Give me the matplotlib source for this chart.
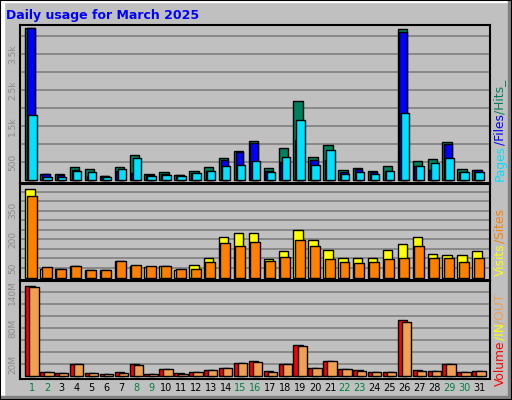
import matplotlib
matplotlib.use("Agg")
import matplotlib.pyplot as plt
from matplotlib.patches import Rectangle
import numpy as np

days = list(range(1, 32))
weekend = [1, 2, 8, 9, 15, 16, 22, 23, 29, 30]
hits = [4230,167,167,370,305,120,370,704,167,222,148,260,370,620,815,1093,333,898,2204,648,982,287,343,260,398,4204,537,593,1065,315,287]
files = [4213,167,139,287,120,110,260,195,150,180,130,190,260,565,778,1028,240,500,1120,565,565,230,305,230,260,4120,398,287,1000,231,268]
pages = [1805,93,93,250,222,93,315,620,120,148,120,195,250,398,417,528,222,648,1676,417,843,176,222,176,250,1861,398,481,620,231,231]
visits = [463,44,44,63,39,42,89,58,54,63,37,68,105,214,232,232,95,137,247,195,142,105,100,105,147,174,214,126,116,116,137]
sites = [428,53,47,63,42,37,89,68,58,58,47,47,84,179,168,189,89,110,195,168,95,79,74,84,95,105,168,105,100,84,105]
vol_in = [150.6,7.2,5.6,20.6,5.6,3.9,7.2,20.6,3.9,12.2,5.6,7.2,10.6,13.9,22.2,25.6,8.9,20.6,52.2,13.9,25.6,12.2,10.6,7.2,7.2,93.9,10.6,8.9,20.6,7.2,8.9]
vol_out = [148.4,7.2,5.6,20.6,5.6,3.9,5.6,18.9,3.9,12.2,3.9,7.2,10.6,13.9,22.2,23.9,7.2,20.6,50.6,13.9,25.6,12.2,8.9,7.2,7.2,90.6,8.9,8.9,20.6,7.2,8.9]
top_ticks = [500, 1500, 2500, 3500]; top_labels = ["500", "1.5k", "2.5k", "3.5k"]
mid_ticks = [50, 200, 350]; mid_labels = ["50", "200", "350"]
bot_ticks = [20, 80, 140]; bot_labels = ["20M", "80M", "140M"]

W, H = 512, 400
fig = plt.figure(figsize=(W/100, H/100), dpi=100, facecolor="#C0C0C0")
x = np.array(days)
BG = "#C0C0C0"

def mkax(top, bot, ylo, yhi, grid_step, grid_max):
    ax = fig.add_axes([20/W, 1-bot/H, 470/W, (bot-top)/H])
    ax.set_facecolor(BG)
    ax.set_xlim(0.195, 31.74)
    ax.set_ylim(ylo, yhi)
    for g in np.arange(grid_step, grid_max + 1e-6, grid_step):
        ax.axhline(g, color="#808080", lw=1.2, zorder=0)
    for s in ax.spines.values():
        s.set_color("black"); s.set_linewidth(1.5)
    ax.set_xticks([])
    ax.tick_params(axis="y", length=0, pad=2, labelsize=6.5, labelcolor="#8c8c8c")
    return ax

def bars(ax, vals, l, r, color):
    ax.bar(x + l, vals, width=r - l, align="edge", color=color, edgecolor="black", lw=1, zorder=2)

a1 = mkax(25, 183, -83, 4306, 500, 4000)
bars(a1, hits, -0.45, 0.18, "#00805C")
bars(a1, files, -0.34, 0.18, "#0000FF")
bars(a1, pages, -0.25, 0.31, "#00E0FF")
a1.set_yticks(top_ticks, top_labels, rotation=90, va="center")

a2 = mkax(184, 279.5, -10.5, 491, 50, 450)
bars(a2, visits, -0.45, 0.18, "#FFFF00")
bars(a2, sites, -0.36, 0.31, "#FF8000")
a2.set_yticks(mid_ticks, mid_labels, rotation=90, va="center")

a3 = mkax(280.7, 378.7, -4, 159.4, 20, 140)
bars(a3, vol_in, -0.45, 0.2, "#FF0000")
bars(a3, vol_out, -0.18, 0.45, "#F0A050")
a3.set_yticks(bot_ticks, bot_labels, rotation=90, va="center")

for d in days:
    fig.text((32 + (d-1)*14.9)/W, 1-388/H, str(d), ha="center", va="center", fontsize=7,
             color="#008040" if d in weekend else "black")

fig.text(6/W, 1-15/H, "Daily usage for March 2025", fontsize=9, fontweight="bold", color="#0000FF", va="center")

r = fig.canvas.get_renderer()
def vlabel(parts, ystart):
    y = ystart
    for txt, col in parts:
        t = fig.text(500/W, 1-y/H, txt, rotation=90, color=col, fontsize=8.8, ha="center", va="bottom")
        bb = t.get_window_extent(r)
        y -= bb.height
vlabel([("Pages", "#00E0FF"), ("/Files", "#0000FF"), ("/Hits_", "#00805C")], 181)
vlabel([("Visits", "#FFFF00"), ("/Sites", "#FF8000")], 276)
vlabel([("Volume", "#FF0000"), ("/IN", "#FFFF00"), ("/OUT", "#F0A050")], 386)

# outer frame
fig.add_artist(Rectangle((0, 0), 4/W, 1, transform=fig.transFigure, color="white"))
fig.add_artist(Rectangle((0, 1-2/H), 1, 2/H, transform=fig.transFigure, color="white"))
fig.add_artist(Rectangle((1-4/W, 0), 4/W, 1, transform=fig.transFigure, color="#808080"))
fig.add_artist(Rectangle((0, 0), 1, 4/H, transform=fig.transFigure, color="#808080"))
fig.add_artist(Rectangle((0, 0), 1, 1, transform=fig.transFigure, fill=False, ec="black", lw=1.5))

fig.savefig("out.png", dpi=100, facecolor=fig.get_facecolor())
